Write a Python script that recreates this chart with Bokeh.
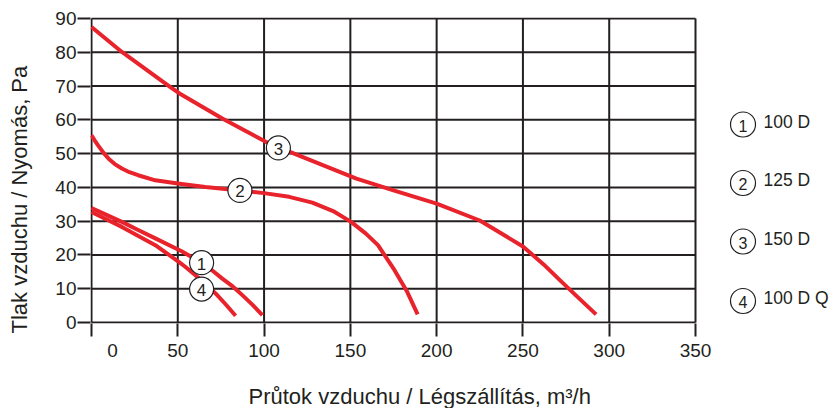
from bokeh.plotting import figure
from bokeh.models import Range1d, FixedTicker, Title
from bokeh.core.properties import value
from bokeh.embed import file_html
from bokeh.resources import INLINE

# ---------------- data ----------------
x_ticks = [0, 50, 100, 150, 200, 250, 300, 350]
y_ticks = [0, 10, 20, 30, 40, 50, 60, 70, 80, 90]

q_100d = [0, 8, 17.6, 27, 37, 52.5, 63.8, 70, 75.8, 82, 87.4, 93.2, 99]
p_100d = [33.9, 32.0, 29.8, 27.4, 24.9, 21.0, 17.7, 15.4, 13.0, 10.6, 8.1, 5.3, 2.2]

q_125d = [0, 2, 4, 7, 9.9, 13.5, 17.6, 22, 27, 37, 51, 66, 86, 100, 114.5, 128, 140, 150.4, 159, 166, 175.6, 183, 189]
p_125d = [55.4, 53.8, 52.3, 50.2, 48.5, 46.9, 45.6, 44.5, 43.6, 42.1, 41.1, 40.1, 39.1, 38.3, 37.2, 35.5, 33.0, 29.8, 26.3, 22.9, 15.5, 9.0, 2.4]

q_150d = [0, 17.6, 45.7, 51, 75.8, 101, 116, 153.5, 175, 200, 225, 250, 262, 272.3, 281.6, 292.4]
p_150d = [87.5, 80.1, 69.7, 67.8, 60.4, 53.5, 50.3, 42.6, 39.1, 35.2, 30.2, 22.5, 17.2, 12.1, 7.6, 2.4]

q_100dq = [0, 17.6, 37, 50.4, 54.3, 63, 71.9, 77.7, 83.5]
p_100dq = [32.7, 28.3, 22.9, 18.0, 16.5, 12.8, 8.6, 5.4, 2.0]

marker_q = [63.8, 86, 108.3, 63.8]
marker_p = [17.7, 39.1, 51.7, 9.9]
marker_txt = ["1", "2", "3", "4"]

legend_names = ["100 D", "125 D", "150 D", "100 D Q"]

x_title = "Průtok vzduchu / Légszállítás, m³/h"
y_title = "Tlak vzduchu / Nyomás, Pa"

# ---------------- layout / style ----------------
INK = "#231f20"
RED = "#e8232b"
FONT = "Liberation Sans"
BLANK = "\u00a0"

W, H = 829, 408
LEFT, TOP, BOTTOM = 90, 17, 85
GRID_W = 604          # pixels from x=0 to x=350
GRID_H = 304          # pixels from y=0 to y=90
xpx = x_ticks[-1] / GRID_W
ypx = y_ticks[-1] / GRID_H
frame_w = W - LEFT
x_start = x_ticks[0] - xpx
x_end = x_start + frame_w * xpx

p = figure(width=W, height=H, output_backend="svg", toolbar_location=None,
           x_range=Range1d(x_start, x_end),
           y_range=Range1d(y_ticks[0] - ypx, y_ticks[-1] + ypx),
           min_border_left=LEFT, min_border_right=0, min_border_top=TOP,
           min_border_bottom=BOTTOM)

p.background_fill_color = "white"
p.border_fill_color = "white"
p.outline_line_color = None
p.xgrid.visible = False
p.ygrid.visible = False

for ax, ticks in ((p.xaxis[0], x_ticks), (p.yaxis[0], y_ticks)):
    ax.ticker = FixedTicker(ticks=ticks)
    ax.minor_tick_line_color = None
    ax.major_tick_in = 0
    ax.major_tick_out = 13
    ax.major_tick_line_color = INK
    ax.major_tick_line_width = 2
    ax.axis_line_color = None
    ax.axis_label_standoff = 0
    ax.major_label_text_font = FONT
    ax.major_label_text_font_size = "19px"
    ax.major_label_text_color = INK

p.xaxis.major_label_standoff = 3
p.yaxis.major_label_standoff = 1
# the original prints its "0" a little right of the first grid line
p.xaxis.major_label_overrides = {x_ticks[0]: "\u2007" * 4 + str(x_ticks[0])}

# grid (limited to the chart area, the legend sits right of it)
p.segment(x0=x_ticks, y0=[y_ticks[0]] * len(x_ticks), x1=x_ticks, y1=[y_ticks[-1]] * len(x_ticks),
          line_color=INK, line_width=2)
p.segment(x0=[x_ticks[0]] * len(y_ticks), y0=y_ticks, x1=[x_ticks[-1]] * len(y_ticks), y1=y_ticks,
          line_color=INK, line_width=2)

# curves
for q, pr in ((q_100d, p_100d), (q_125d, p_125d), (q_150d, p_150d), (q_100dq, p_100dq)):
    p.line(q, pr, line_color=RED, line_width=4, line_cap="butt", line_join="round")

# numbered circles on the curves
p.scatter(marker_q, marker_p, marker="circle", size=24, fill_color="white",
          line_color=INK, line_width=1.2)
p.text(marker_q, marker_p, text=marker_txt, text_font=value(FONT), text_font_size="17px",
       text_color=INK, text_align="center", text_baseline="middle", y_offset=1)

# legend right of the grid
leg_x = [x_ticks[0] + 651.5 * xpx] * 4
leg_y = [(324 - v) * ypx for v in (126, 184.5, 243, 302.5)]
leg_tx = [x_ticks[0] + 672 * xpx] * 4
p.scatter(leg_x, leg_y, marker="circle", size=25, fill_color="white",
          line_color=INK, line_width=1.2)
p.text(leg_x, leg_y, text=marker_txt, text_font=value(FONT), text_font_size="16px",
       text_color=INK, text_align="center", text_baseline="middle", y_offset=1)
p.text(leg_tx, leg_y, text=legend_names, text_font=value(FONT), text_font_size="17.5px",
       text_color=INK, text_align="left", text_baseline="middle", y_offset=-3)

# axis titles (a blank spacer line pushes each title away from its axis)
p.add_layout(Title(text=BLANK + "\n" + x_title, align="left", offset=158,
                   vertical_align="bottom", standoff=0, text_line_height=0.72,
                   text_font=FONT, text_font_size="22px", text_font_style="normal",
                   text_color=INK), "below")
p.add_layout(Title(text=y_title + "\n" + BLANK, align="left", offset=-10,
                   vertical_align="top", standoff=0, text_line_height=0.75,
                   text_font=FONT, text_font_size="22px", text_font_style="normal",
                   text_color=INK), "left")

open("out.html", "w").write(file_html(p, INLINE))
